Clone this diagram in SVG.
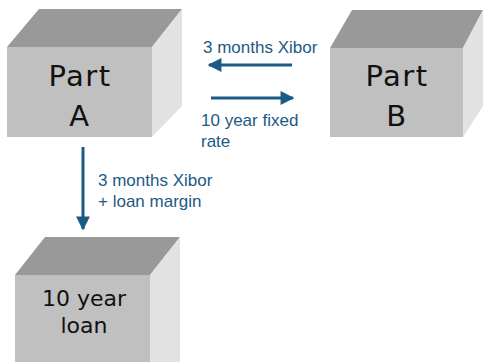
<svg xmlns="http://www.w3.org/2000/svg" width="487" height="362" viewBox="0 0 487 362">
<style>
.top{fill:#999999}
.front{fill:#c0c0c0}
.side{fill:#e2e2e2}
.bt{font-family:"DejaVu Sans","Liberation Sans",sans-serif;fill:#111;text-anchor:middle}
.big{font-size:29px;letter-spacing:1.5px}
.lbl{font-family:"Liberation Sans",Arial,sans-serif;font-size:17px;fill:#1d5a82}
.ar{stroke:#1b5a84;stroke-width:3;fill:none}
</style>
<defs>
<marker id="ah" viewBox="0 0 10 10" refX="9" refY="5" markerWidth="5.5" markerHeight="4.6" orient="auto" markerUnits="strokeWidth">
<path d="M0,0 L10,5 L0,10 z" fill="#1b5a84"/>
</marker>
</defs>
<rect width="487" height="362" fill="#ffffff"/>
<g id="partA">
<polygon class="top" points="7,47 39,9 182,9 152,47"/>
<polygon class="side" points="152,47 182,9 182,106 152,137"/>
<rect class="front" x="7" y="47" width="145" height="90"/>
<text class="bt big" x="80" y="86">Part</text>
<text class="bt big" x="80" y="126">A</text>
</g>
<g id="partB">
<polygon class="top" points="330,48 352,10 483,10 463,48"/>
<polygon class="side" points="463,48 483,10 483,106 463,137"/>
<rect class="front" x="330" y="48" width="133" height="89"/>
<text class="bt big" x="397" y="86">Part</text>
<text class="bt big" x="397" y="126">B</text>
</g>
<g id="loan">
<polygon class="top" points="15,275 45,237 180,237 150,275"/>
<polygon class="side" points="150,275 180,237 180,362 150,362"/>
<rect class="front" x="15" y="275" width="135" height="87"/>
<text class="bt" x="84" y="306" font-size="22">10 year</text>
<text class="bt" x="84" y="333" font-size="22">loan</text>
</g>
<g id="connectors">
<line class="ar" x1="292" y1="65" x2="209" y2="65" marker-end="url(#ah)"/>
<line class="ar" x1="211" y1="98" x2="293" y2="98" marker-end="url(#ah)"/>
<line class="ar" x1="83" y1="147" x2="83" y2="229" marker-end="url(#ah)"/>
<text class="lbl" x="203" y="53">3 months Xibor</text>
<text class="lbl" x="201" y="126">10 year fixed</text>
<text class="lbl" x="201" y="147">rate</text>
<text class="lbl" x="98" y="186">3 months Xibor</text>
<text class="lbl" x="98" y="207">+ loan margin</text>
</g>
</svg>
